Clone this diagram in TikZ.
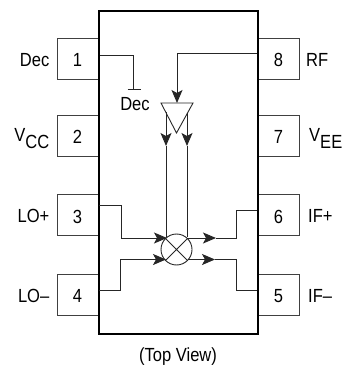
\documentclass[tikz,border=0pt]{standalone}
\usepackage{fontspec}
\setmainfont[FakeStretch=0.87]{Liberation Sans}
\usetikzlibrary{arrows.meta}
\tikzset{
  pinbox/.style={draw=black!75,line width=0.9pt,minimum width=41pt,minimum height=41pt,inner sep=0pt,text height=16.2pt,text depth=0pt,font=\fontsize{19}{21}\selectfont},
  lab/.style={inner sep=0pt,font=\fontsize{19}{21}\selectfont},
  wire/.style={draw=black!85,line width=0.9pt},
  tip/.style={wire,-{Stealth[length=13pt,width=11pt,inset=3pt]}},
}
\newcommand{\subtxt}[2]{#1\raisebox{-7pt}{#2}}
\begin{document}
\begin{tikzpicture}[x=1pt,y=-1pt]
\useasboundingbox (0,0) rectangle (343,366);
% pins
\node[pinbox] (p1) at (77.5,58.5) {1};
\node[pinbox] (p2) at (77.5,135.5) {2};
\node[pinbox] (p3) at (77.5,215) {3};
\node[pinbox] (p4) at (77.5,294.5) {4};
\node[pinbox] (p8) at (278.5,58.5) {8};
\node[pinbox] (p7) at (278.5,135.5) {7};
\node[pinbox] (p6) at (278.5,215) {6};
\node[pinbox] (p5) at (278.5,294.5) {5};
% package
\node[draw=black,line width=2pt,minimum width=159.5pt,minimum height=322.5pt,inner sep=0pt] (body) at (178.25,172.75) {};
% labels
\node[lab,anchor=base east] (l1) at (49.5,66.7) {Dec};
\node[lab,anchor=base east] (l2) at (49.5,141.7) {\subtxt{V}{CC}};
\node[lab,anchor=base east] (l3) at (49.5,222.7) {LO+};
\node[lab,anchor=base east] (l4) at (49.5,302.7) {LO–};
\node[lab,anchor=base west] (l8) at (306,66.7) {RF};
\node[lab,anchor=base west] (l7) at (309,141.7) {\subtxt{V}{EE}};
\node[lab,anchor=base west] (l6) at (308,222.7) {IF+};
\node[lab,anchor=base west] (l5) at (308,302.7) {IF–};
\node[lab,anchor=base] (dec) at (135,111) {Dec};
\node[lab,anchor=base] (top) at (178,361) {(Top View)};
% mixer
\node[circle,draw=black!85,line width=0.9pt,minimum size=31pt,inner sep=0pt,
  path picture={\draw[black!85,line width=0.9pt] (path picture bounding box.north west)--(path picture bounding box.south east)
  (path picture bounding box.north east)--(path picture bounding box.south west);}] (mix) at (176.5,249.5) {};
% amplifier
\coordinate (tl) at (161,103);
\coordinate (tr) at (193,103);
\coordinate (ta) at (176.5,133);
\draw[wire] (tl)--(tr)--(ta)--cycle;
% RF
\coordinate (rf1) at (257,53);
\coordinate (rf2) at (177,53);
\coordinate (rf3) at (177,103);
\draw[tip] (rf1)--(rf2)--(rf3);
% Dec
\coordinate (d1) at (100,55);
\coordinate (d2) at (133.5,55);
\coordinate (d3) at (133.5,89);
\coordinate (b1) at (127.5,89);
\coordinate (b2) at (141,89);
\draw[wire] (d1)--(d2)--(d3) (b1)--(b2);
% amplifier to mixer
\coordinate (a1) at (166,112);
\coordinate (a1m) at (166,146);
\coordinate (a1e) at (166,237);
\coordinate (a2) at (187,113);
\coordinate (a2m) at (187,146);
\coordinate (a2e) at (187,237);
\draw[tip] (a1)--(a1m);
\draw[wire] (a1m)--(a1e);
\draw[tip] (a2)--(a2m);
\draw[wire] (a2m)--(a2e);
% LO
\coordinate (lp1) at (99,205.5);
\coordinate (lp2) at (121,205.5);
\coordinate (lp3) at (121,238);
\coordinate (lp4) at (167,238);
\draw[tip] (lp1)--(lp2)--(lp3)--(lp4);
\coordinate (lm1) at (99,290.5);
\coordinate (lm2) at (120,290.5);
\coordinate (lm3) at (120,259.5);
\coordinate (lm4) at (166,259.5);
\draw[tip] (lm1)--(lm2)--(lm3)--(lm4);
% IF
\coordinate (ip0) at (187,238);
\coordinate (ip1) at (216,238);
\coordinate (ip2) at (236,238);
\coordinate (ip3) at (236,210);
\coordinate (ip4) at (257,210);
\draw[tip] (ip0)--(ip1);
\draw[wire] (ip1)--(ip2)--(ip3)--(ip4);
\coordinate (im0) at (188,259.5);
\coordinate (im1) at (215,259.5);
\coordinate (im2) at (236,259.5);
\coordinate (im3) at (236,290.5);
\coordinate (im4) at (257,290.5);
\draw[tip] (im0)--(im1);
\draw[wire] (im1)--(im2)--(im3)--(im4);
\end{tikzpicture}
\end{document}
